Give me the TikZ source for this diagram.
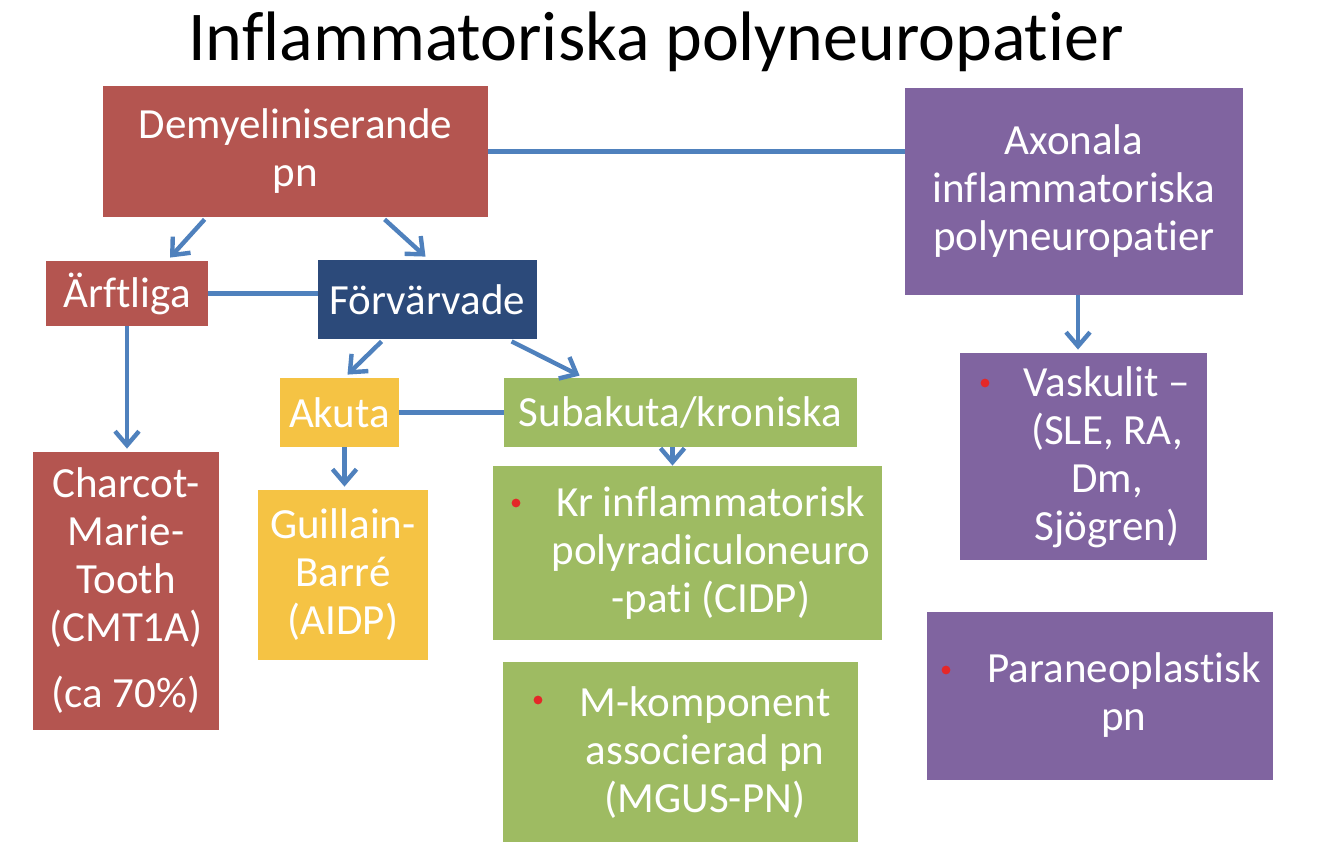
\documentclass[tikz,border=0pt]{standalone}
\usepackage{fontspec}
\setmainfont{Carlito}[Ligatures=NoCommon]
\usepackage{xcolor}
\usetikzlibrary{arrows.meta,calc}

\definecolor{redbox}{RGB}{180,85,80}
\definecolor{navybox}{RGB}{44,74,122}
\definecolor{yellowbox}{RGB}{245,195,68}
\definecolor{greenbox}{RGB}{158,187,98}
\definecolor{purplebox}{RGB}{128,100,160}
\definecolor{linkblue}{RGB}{79,129,189}
\definecolor{bulletred}{RGB}{228,40,40}

\begin{document}
\begin{tikzpicture}[x=0.5pt,y=-0.5pt,
	box/.style={inner sep=0pt,text=white,align=center,font=\fontsize{21.5}{24}\selectfont},
	txt/.style={inner sep=0pt,text=white,align=center,font=\fontsize{21.5}{24}\selectfont},
	link/.style={draw=linkblue,line width=2.2pt},
	>={Straight Barb[length=7pt,width=12pt]}]
	% the page
	\fill[white] (0,0) rectangle (1334,860);
	\useasboundingbox (0,0) rectangle (1334,860);

	% the title
	\node[inner sep=0pt,font=\fontsize{35}{42}\selectfont] (title) at (656,42) {Inflammatoriska polyneuropatier};

	% the boxes on the left side
	\node[box,fill=redbox,minimum width=192.5pt,minimum height=65.5pt] (demyel) at (295.5,151.5) {Demyeliniserande\\pn};
	\node[box,fill=redbox,minimum width=81pt,minimum height=32.5pt] (arftliga) at (127,293.5) {Ärftliga};
	\node[box,fill=navybox,minimum width=109.5pt,minimum height=39.5pt] (forv) at (427.5,299.5) {Förvärvade};
	\node[box,fill=yellowbox,minimum width=59.5pt,minimum height=34.5pt] (akuta) at (339.5,412.5) {Akuta};
	\node[box,fill=greenbox,minimum width=176.5pt,minimum height=34.5pt] (subakuta) at (680.5,412.5) {Subakuta/kroniska};
	\node[box,fill=redbox,minimum width=93pt,minimum height=139pt] (charcot) at (126,591) {Charcot-\\Marie-\\Tooth\\(CMT1A)\\[9pt](ca 70\%)};
	\node[box,fill=yellowbox,minimum width=85pt,minimum height=85pt] (guillain) at (343,575) {Guillain-\\Barré\\(AIDP)};
	\node[box,fill=greenbox,minimum width=194.5pt,minimum height=87pt] (cidp) at (687.5,553) {};
	\node[box,fill=greenbox,minimum width=177.5pt,minimum height=90pt] (mkomp) at (680.5,752) {};

	% the boxes on the right side
	\node[box,fill=purplebox,minimum width=169pt,minimum height=103.5pt] (axonala) at (1074,191.5) {Axonala\\inflammatoriska\\polyneuropatier};
	\node[box,fill=purplebox,minimum width=123.5pt,minimum height=103.5pt] (vaskulit) at (1083.5,456.5) {};
	\node[box,fill=purplebox,minimum width=173pt,minimum height=84pt] (paraneo) at (1100,696) {};

	% the bulleted texts
	\node[txt] (cidptext) at (711,553) {Kr inflammatorisk\\polyradiculoneuro\\-pati (CIDP)};
	\node[txt] (mkomptext) at (705,753) {M-komponent\\associerad pn\\(MGUS-PN)};
	\node[txt] (vaskulittext) at (1107,457) {Vaskulit --\\(SLE, RA,\\Dm,\\Sjögren)};
	\node[txt] (paraneotext) at (1124,695) {Paraneoplastisk\\pn};
	\foreach \x/\y in {516/503, 538/700, 985/383, 946/670}
		\fill[bulletred] (\x,\y) circle(2.2pt);

	% plain links
	\draw[link] (demyel.east) -- (demyel.east -| axonala.west);
	\draw[link] (arftliga.east) -- (arftliga.east -| forv.west);
	\draw[link] (akuta.east) -- (subakuta.west);

	% arrows
	\draw[link,->] ($(demyel.south west)+(102,2)$) -- ($(arftliga.north)+(43,-3)$);
	\draw[link,->] ($(demyel.south west)+(282,2)$) -- ($(forv.north)+(-2,-3)$);
	\draw[link,->] (arftliga.south) -- ($(arftliga.south |- charcot.north)+(0,-3)$);
	\draw[link,->] ($(forv.south west)+(64,2)$) -- ($(akuta.north)+(8,-3)$);
	\draw[link,->] ($(forv.south west)+(194,2)$) -- ($(subakuta.north west)+(76,-2)$);
	\draw[link,->] ($(akuta.south)+(5,0)$) -- ($(akuta.south |- guillain.north)+(5,-3)$);
	\draw[link,->] ($(subakuta.south)+(-8,0)$) -- ($(subakuta.south |- cidp.north)+(-8,0)$);
	\draw[link,->] ($(axonala.south)+(4,0)$) -- ($(axonala.south |- vaskulit.north)+(4,-3)$);
\end{tikzpicture}
\end{document}
